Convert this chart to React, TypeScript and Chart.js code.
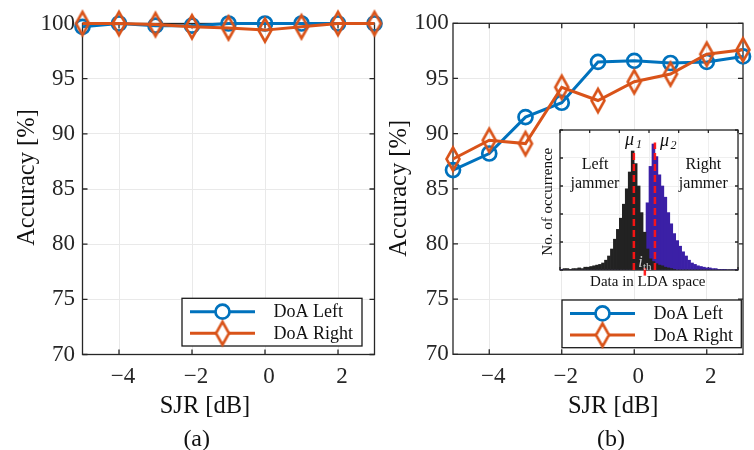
import React, { useEffect, useRef } from 'react';
import { Chart, registerables } from 'chart.js';
Chart.register(...registerables);

// ---------------- data ----------------
const sjr = [-5, -4, -3, -2, -1, 0, 1, 2, 3];
const doaLeftA = [99.7, 100, 99.8, 99.8, 100, 100, 100, 100, 100];
const doaRightA = [100, 100, 99.9, 99.7, 99.6, 99.4, 99.7, 100, 100];
const doaLeftB = [86.7, 88.2, 91.5, 92.8, 96.5, 96.6, 96.4, 96.5, 97.0];
const doaRightB = [87.7, 89.4, 89.1, 94.2, 93.0, 94.7, 95.4, 97.2, 97.6];
const seriesLabels = ['DoA Left', 'DoA Right'];
const xTicks = [-4, -2, 0, 2];
const yTicks = [70, 75, 80, 85, 90, 95, 100];

// inset histogram (Data in LDA space), bins of width 0.1 starting at -2.95
const ldaBinStart = -2.95;
const ldaBinWidth = 0.1;
const leftJammerCounts = [
  0, 1, 1, 0.5, 1, 1, 1.5, 1, 2, 2,
  2.5, 3, 3.5, 4, 5, 7, 10, 15, 22, 29,
  37, 47, 58, 70, 85, 76, 60, 41, 27, 15,
  8, 6, 4.5, 3.5, 3, 2, 1.5, 1, 0.5, 0,
  0, 0, 0, 0, 0, 0, 0, 0, 0, 0,
  0, 0, 0, 0, 0, 0, 0, 0, 0, 0,
];
const rightJammerCounts = [
  0, 0, 0, 0, 0, 0, 0, 0, 0, 0,
  0, 0, 0, 0, 0, 0, 0, 0, 0, 0,
  0, 0, 0, 0, 0, 0, 0, 0, 12, 48,
  74, 90, 81, 68, 60, 52, 41, 33, 26, 21,
  17, 13, 10, 7, 5, 4, 3, 2.5, 2, 1.5,
  1.5, 1, 1, 0.5, 0.5, 0.5, 0, 0, 0, 0,
];
const mu1 = -0.51;
const mu2 = 0.2;
const iTh = -0.14;
const mu1Peak = 86;
const mu2Peak = 91;

// ---------------- styles ----------------
const BLUE = '#0072BD';
const ORANGE = '#D95319';
const GRID = '#e9e9e9';
const AXIS = '#262626';
const SERIF = '"Liberation Serif", "Times New Roman", serif';

function fmtTick(v: number) {
  return v < 0 ? '\u2212' + Math.abs(v) : String(v);
}

function makeDiamond(color: string) {
  const c = document.createElement('canvas');
  c.width = 18;
  c.height = 30;
  const g = c.getContext('2d')!;
  g.strokeStyle = color;
  g.lineWidth = 2.6;
  g.lineJoin = 'miter';
  g.beginPath();
  g.moveTo(9, 3.5);
  g.lineTo(15.5, 15);
  g.lineTo(9, 26.5);
  g.lineTo(2.5, 15);
  g.closePath();
  g.stroke();
  return c;
}

const framePlugin = (tickLen: number, fillWhite = false) => ({
  id: 'matlabFrame',
  beforeDraw(chart: any) {
    if (!fillWhite) return;
    const { ctx, chartArea: a } = chart;
    ctx.save();
    ctx.fillStyle = '#ffffff';
    ctx.fillRect(a.left, a.top, a.right - a.left, a.bottom - a.top);
    ctx.restore();
  },
  beforeDatasetsDraw(chart: any) {
    const { ctx, chartArea: a, scales } = chart;
    ctx.save();
    ctx.strokeStyle = AXIS;
    ctx.lineWidth = 1.3;
    ctx.beginPath();
    for (const t of scales.x.ticks) {
      const px = scales.x.getPixelForValue(t.value);
      ctx.moveTo(px, a.bottom);
      ctx.lineTo(px, a.bottom - tickLen);
      ctx.moveTo(px, a.top);
      ctx.lineTo(px, a.top + tickLen);
    }
    for (const t of scales.y.ticks) {
      const py = scales.y.getPixelForValue(t.value);
      ctx.moveTo(a.left, py);
      ctx.lineTo(a.left + tickLen, py);
      ctx.moveTo(a.right, py);
      ctx.lineTo(a.right - tickLen, py);
    }
    ctx.stroke();
    ctx.strokeRect(a.left, a.top, a.right - a.left, a.bottom - a.top);
    ctx.restore();
  },
});

type TextItem = {
  text: string;
  x: number;
  y: number;
  font: string;
  color?: string;
  align?: CanvasTextAlign;
  baseline?: CanvasTextBaseline;
  rotate?: number;
};

const textPlugin = (items: TextItem[]) => ({
  id: 'texts',
  afterDraw(chart: any) {
    const ctx = chart.ctx;
    for (const t of items) {
      ctx.save();
      ctx.font = t.font;
      ctx.fillStyle = t.color || '#111';
      ctx.textAlign = t.align || 'center';
      ctx.textBaseline = t.baseline || 'middle';
      ctx.translate(t.x, t.y);
      if (t.rotate) ctx.rotate(t.rotate);
      ctx.fillText(t.text, 0, 0);
      ctx.restore();
    }
  },
});

const legendPlugin = (box: { x: number; y: number; w: number; h: number }, diamond: HTMLCanvasElement) => ({
  id: 'boxLegend',
  afterDraw(chart: any) {
    const ctx = chart.ctx;
    ctx.save();
    ctx.fillStyle = '#fff';
    ctx.fillRect(box.x, box.y, box.w, box.h);
    ctx.strokeStyle = '#1a1a1a';
    ctx.lineWidth = 1.3;
    ctx.strokeRect(box.x, box.y, box.w, box.h);
    const rows = [13.4, 35];
    chart.data.datasets.forEach((ds: any, i: number) => {
      const y = box.y + rows[i];
      ctx.strokeStyle = ds.borderColor;
      ctx.lineWidth = 3;
      ctx.beginPath();
      ctx.moveTo(box.x + 8, y);
      ctx.lineTo(box.x + 73, y);
      ctx.stroke();
      const mx = box.x + 40.5;
      if (i === 0) {
        ctx.lineWidth = 2.7;
        ctx.fillStyle = '#fff';
        ctx.beginPath();
        ctx.arc(mx, y, 7, 0, Math.PI * 2);
        ctx.fill();
        ctx.stroke();
      } else {
        ctx.fillStyle = '#fff';
        ctx.beginPath();
        ctx.moveTo(mx, y - 11.5);
        ctx.lineTo(mx + 6.5, y);
        ctx.lineTo(mx, y + 11.5);
        ctx.lineTo(mx - 6.5, y);
        ctx.closePath();
        ctx.fill();
        ctx.drawImage(diamond, mx - diamond.width / 2, y - diamond.height / 2);
      }
      ctx.fillStyle = '#111';
      ctx.font = '18px ' + SERIF;
      ctx.textAlign = 'left';
      ctx.textBaseline = 'middle';
      ctx.fillText(ds.label, box.x + 91.5, y + 1);
    });
    ctx.restore();
  },
});

type Geom = {
  w: number;
  areaLeft: number;
  areaRight: number;
  areaTop: number;
  areaBottom: number;
  yPad: number;
  legend: { x: number; y: number; w: number; h: number };
  yTitle: [number, number];
  xTitle: [number, number];
  sub: [number, number];
  subText: string;
};

function mainConfig(leftVals: number[], rightVals: number[], g: Geom): any {
  const diamond = makeDiamond(ORANGE);
  const tickFont = { family: SERIF, size: 23 };
  return {
    type: 'line',
    data: {
      datasets: [
        {
          label: seriesLabels[0],
          data: sjr.map((x, i) => ({ x, y: leftVals[i] })),
          borderColor: BLUE,
          borderWidth: 3,
          pointStyle: 'circle',
          pointRadius: 7,
          pointBorderWidth: 2.7,
          pointBorderColor: BLUE,
          pointBackgroundColor: 'rgba(0,0,0,0)',
          clip: false,
          order: 1,
        },
        {
          label: seriesLabels[1],
          data: sjr.map((x, i) => ({ x, y: rightVals[i] })),
          borderColor: ORANGE,
          borderWidth: 3,
          pointStyle: diamond,
          pointRadius: 8,
          clip: false,
          order: 0,
        },
      ],
    },
    options: {
      responsive: false,
      animation: false,
      devicePixelRatio: 1,
      events: [],
      layout: { padding: { top: g.areaTop, right: g.w - g.areaRight, left: 0, bottom: 0 } },
      plugins: { legend: { display: false }, tooltip: { enabled: false } },
      scales: {
        x: {
          type: 'linear',
          min: -5,
          max: 3,
          afterBuildTicks: (s: any) => {
            s.ticks = xTicks.map((v) => ({ value: v }));
          },
          afterFit: (s: any) => {
            s.height = 450 - g.areaBottom;
          },
          ticks: {
            font: tickFont,
            color: AXIS,
            padding: 8.7,
            labelOffset: 4,
            maxRotation: 0,
            autoSkip: false,
            callback: (v: any) => fmtTick(Number(v)),
          },
          grid: { color: GRID, drawTicks: false, lineWidth: 1 },
          border: { display: false },
        },
        y: {
          type: 'linear',
          min: 70,
          max: 100,
          afterBuildTicks: (s: any) => {
            s.ticks = yTicks.map((v) => ({ value: v }));
          },
          afterFit: (s: any) => {
            s.width = g.areaLeft;
          },
          ticks: { font: tickFont, color: AXIS, padding: g.yPad, callback: (v: any) => fmtTick(Number(v)) },
          grid: { color: GRID, drawTicks: false, lineWidth: 1 },
          border: { display: false },
        },
      },
    },
    plugins: [
      framePlugin(5),
      textPlugin([
        { text: 'Accuracy [%]', x: g.yTitle[0], y: g.yTitle[1], font: '24.5px ' + SERIF, rotate: -Math.PI / 2 },
        { text: 'SJR [dB]', x: g.xTitle[0], y: g.xTitle[1], font: '24.5px ' + SERIF },
        { text: g.subText, x: g.sub[0], y: g.sub[1], font: '24px ' + SERIF },
      ]),
      legendPlugin(g.legend, diamond),
    ],
  };
}

function insetConfig(): any {
  const binCenters = leftJammerCounts.map((_, i) => ldaBinStart + i * ldaBinWidth);
  const RED = 'rgba(255,20,20,0.95)';
  return {
    type: 'bar',
    data: {
      datasets: [
        {
          type: 'line',
          data: [{ x: mu1, y: 0 }, { x: mu1, y: mu1Peak }],
          borderColor: RED,
          borderDash: [7, 4],
          borderWidth: 2.5,
          pointRadius: 0,
          order: 0,
          clip: false,
        },
        {
          type: 'line',
          data: [{ x: mu2, y: 0 }, { x: mu2, y: mu2Peak }],
          borderColor: RED,
          borderDash: [7, 4],
          borderWidth: 2.5,
          pointRadius: 0,
          order: 0,
          clip: false,
        },
        {
          type: 'line',
          data: [{ x: iTh, y: -4 }, { x: iTh, y: 1.5 }],
          borderColor: RED,
          borderWidth: 2.5,
          pointRadius: 0,
          order: 0,
          clip: false,
        },
        {
          type: 'bar',
          label: 'Left jammer',
          data: binCenters.map((x, i) => ({ x, y: leftJammerCounts[i] })),
          backgroundColor: '#222222',
          borderWidth: 0,
          barPercentage: 1,
          categoryPercentage: 1,
          grouped: false,
          order: 1,
        },
        {
          type: 'bar',
          label: 'Right jammer',
          data: binCenters.map((x, i) => ({ x, y: rightJammerCounts[i] })),
          backgroundColor: '#3b20a6',
          borderWidth: 0,
          barPercentage: 1,
          categoryPercentage: 1,
          grouped: false,
          order: 2,
        },
      ],
    },
    options: {
      responsive: false,
      animation: false,
      devicePixelRatio: 1,
      events: [],
      layout: { padding: { top: 5, right: 7, left: 0, bottom: 0 } },
      plugins: { legend: { display: false }, tooltip: { enabled: false } },
      scales: {
        x: {
          type: 'linear',
          min: -3,
          max: 3,
          offset: false,
          ticks: { display: false, stepSize: 1 },
          grid: { color: '#efefef', drawTicks: false, offset: false },
          border: { display: false },
          afterFit: (s: any) => {
            s.height = 20;
          },
        },
        y: {
          type: 'linear',
          min: 0,
          max: 100,
          ticks: { display: false, stepSize: 20 },
          grid: { color: '#efefef', drawTicks: false },
          border: { display: false },
          afterFit: (s: any) => {
            s.width = 35;
          },
        },
      },
    },
    plugins: [
      framePlugin(3, true),
      textPlugin([
        { text: 'No. of occurrence', x: 23, y: 76.7, font: '15px ' + SERIF, rotate: -Math.PI / 2 },
        { text: 'Data in LDA space', x: 122.8, y: 156.7, font: '15px ' + SERIF },
        { text: 'Left', x: 70, y: 40, font: '16px ' + SERIF },
        { text: 'jammer', x: 70, y: 58.3, font: '16px ' + SERIF },
        { text: 'Right', x: 178.3, y: 39.3, font: '16px ' + SERIF },
        { text: 'jammer', x: 178.3, y: 58.3, font: '16px ' + SERIF },
        { text: '\u03bc', x: 100, y: 20, font: 'italic 18px ' + SERIF, align: 'left', baseline: 'alphabetic' },
        { text: '1', x: 111, y: 23, font: 'italic 12px ' + SERIF, align: 'left', baseline: 'alphabetic' },
        { text: '\u03bc', x: 135, y: 21, font: 'italic 18px ' + SERIF, align: 'left', baseline: 'alphabetic' },
        { text: '2', x: 145.5, y: 23.5, font: 'italic 12px ' + SERIF, align: 'left', baseline: 'alphabetic' },
        { text: 'i', x: 113.3, y: 141.7, font: 'italic 16px ' + SERIF, align: 'left', baseline: 'alphabetic', color: '#cfcfcf' },
        { text: 'th', x: 118, y: 144.5, font: '11px ' + SERIF, align: 'left', baseline: 'alphabetic', color: '#cfcfcf' },
      ]),
    ],
  };
}

function ChartCanvas(props: { make: () => any; left: number; top: number; width: number; height: number }) {
  const ref = useRef<HTMLCanvasElement>(null);
  useEffect(() => {
    const chart = new Chart(ref.current as HTMLCanvasElement, props.make());
    return () => chart.destroy();
  }, []);
  return (
    <canvas
      ref={ref}
      width={props.width}
      height={props.height}
      style={{ position: 'absolute', left: props.left, top: props.top, width: props.width, height: props.height, display: 'block' }}
    />
  );
}

const geomA: Geom = {
  w: 390,
  areaLeft: 82.5,
  areaRight: 374.5,
  areaTop: 23.5,
  areaBottom: 354.5,
  yPad: 7.5,
  legend: { x: 182, y: 298.3, w: 180, h: 47.7 },
  yTitle: [27.5, 177.5],
  xTitle: [205, 406.7],
  sub: [196.7, 440],
  subText: '(a)',
};

const geomB: Geom = {
  w: 377,
  areaLeft: 76,
  areaRight: 374,
  areaTop: 23.3,
  areaBottom: 354.3,
  yPad: 4.3,
  legend: { x: 185, y: 300, w: 179.3, h: 47.7 },
  yTitle: [23, 188.3],
  xTitle: [236.2, 406.7],
  sub: [234, 440],
  subText: '(b)',
};

export default function App() {
  return (
    <div style={{ position: 'absolute', left: 0, top: 0, width: 754, height: 450, background: '#fff', overflow: 'hidden' }}>
      <ChartCanvas make={() => mainConfig(doaLeftA, doaRightA, geomA)} left={0} top={0} width={390} height={450} />
      <ChartCanvas make={() => mainConfig(doaLeftB, doaRightB, geomB)} left={377} top={0} width={377} height={450} />
      <ChartCanvas make={insetConfig} left={525} top={125} width={220} height={165} />
    </div>
  );
}
